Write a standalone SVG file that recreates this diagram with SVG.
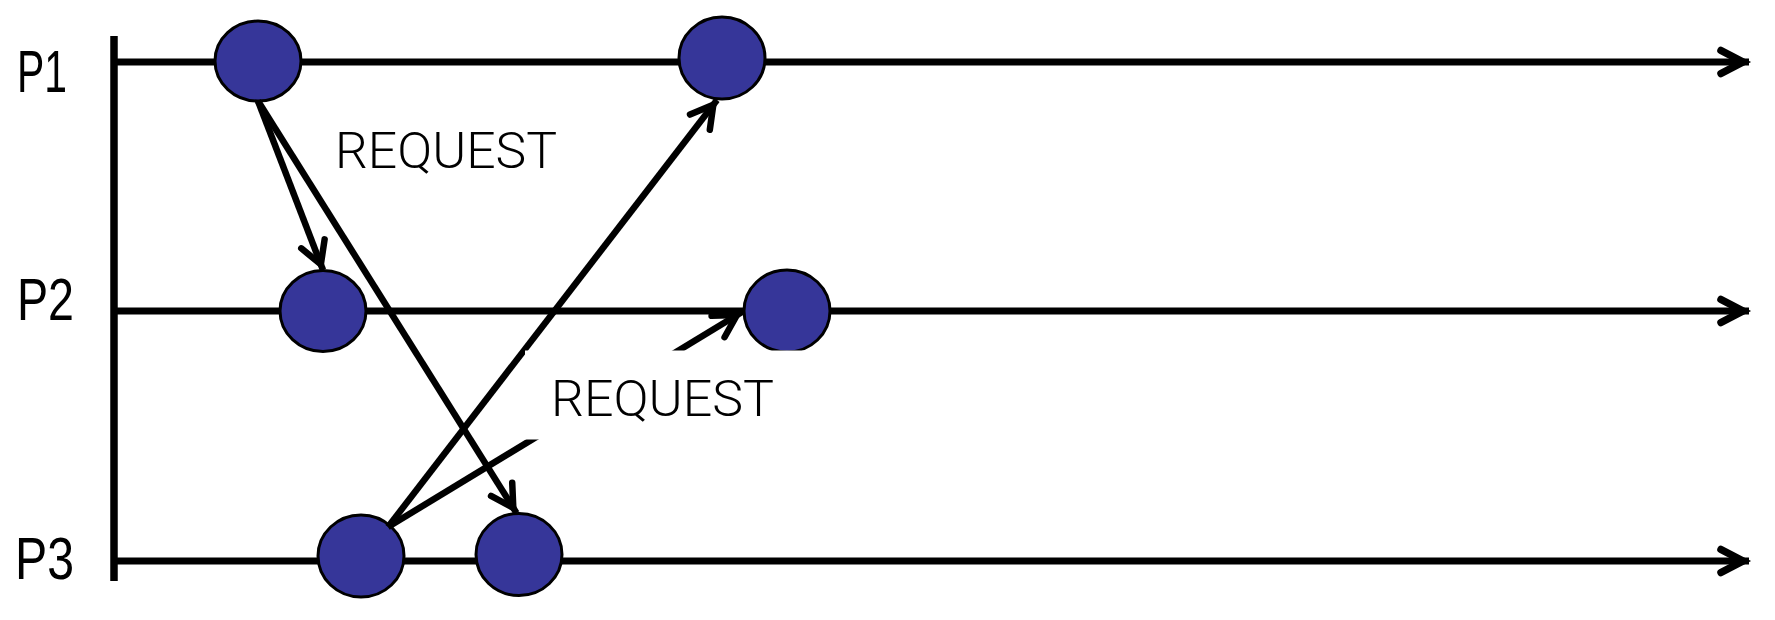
<svg xmlns="http://www.w3.org/2000/svg" width="1775" height="620" viewBox="0 0 1775 620">
  <style>
    .tl { stroke: #000; stroke-width: 7; fill: none; }
    .ax { stroke: #000; stroke-width: 7.5; fill: none; }
    .ev { fill: #363699; stroke: #000; stroke-width: 3; }
    .msg { stroke: #000; stroke-width: 6.5; fill: none; }
    .plab { font-family: "Liberation Sans", Arial, sans-serif; font-size: 59px; fill: #000; }
    .req { font-family: Roboto, "Liberation Sans", sans-serif; font-weight: 300; font-size: 50px; fill: #000; }
  </style>
  <defs>
    <marker id="ah" markerUnits="userSpaceOnUse" orient="auto" overflow="visible" refX="0" refY="0" markerWidth="1" markerHeight="1">
      <path d="M-28,-12.5 L-6,0 L-28,12.5" fill="none" stroke="#000" stroke-width="6.5" stroke-linecap="round" stroke-linejoin="miter"/>
    </marker>
    <marker id="tah" markerUnits="userSpaceOnUse" orient="auto" overflow="visible" refX="0" refY="0" markerWidth="1" markerHeight="1">
      <path d="M-28,-11.5 L-6,0 L-28,11.5" fill="none" stroke="#000" stroke-width="7.5" stroke-linecap="round" stroke-linejoin="miter"/>
    </marker>
  </defs>

  <g id="timelines">
    <line class="ax" x1="114" y1="36" x2="114" y2="581"/>
    <line class="tl" x1="111" y1="62" x2="1749" y2="62" marker-end="url(#tah)"/>
    <line class="tl" x1="111" y1="311" x2="1749" y2="311" marker-end="url(#tah)"/>
    <line class="tl" x1="111" y1="561" x2="1749" y2="561" marker-end="url(#tah)"/>
  </g>

  <g id="labels">
    <text class="plab" x="17" y="92" textLength="50" lengthAdjust="spacingAndGlyphs">P1</text>
    <text class="plab" x="17" y="320" textLength="57" lengthAdjust="spacingAndGlyphs">P2</text>
    <text class="plab" x="15" y="579" textLength="59" lengthAdjust="spacingAndGlyphs">P3</text>
  </g>

  <g id="node-p1-a"><ellipse class="ev" cx="258" cy="61" rx="43" ry="40"/></g>
  <g id="node-p1-b"><ellipse class="ev" cx="722" cy="58" rx="43" ry="41"/></g>
  <g id="node-p2-a"><ellipse class="ev" cx="323" cy="311" rx="43" ry="40.5"/></g>
  <g id="node-p2-b"><ellipse class="ev" cx="787" cy="311" rx="43" ry="41"/></g>
  <g id="node-p3-a"><ellipse class="ev" cx="361" cy="556" rx="43" ry="41"/></g>
  <g id="node-p3-b"><ellipse class="ev" cx="519" cy="554.5" rx="43" ry="41"/></g>

  <g id="connectors">
    <line class="msg" x1="258" y1="101" x2="323" y2="270" marker-end="url(#ah)"/>
    <line class="msg" x1="258" y1="101" x2="516.5" y2="513" marker-end="url(#ah)"/>
    <line class="msg" x1="388" y1="527" x2="717" y2="100" marker-end="url(#ah)"/>
    <line class="msg" x1="388" y1="527" x2="742" y2="312" marker-end="url(#ah)"/>
  </g>

  <g id="label-request-1">
    <text class="req" x="335" y="168" textLength="222" lengthAdjust="spacingAndGlyphs">REQUEST</text>
  </g>
  <g id="label-request-2">
    <rect x="525" y="350.5" width="315" height="89" fill="#fff"/>
    <text class="req" x="551" y="415.5" textLength="223" lengthAdjust="spacingAndGlyphs">REQUEST</text>
  </g>
</svg>
